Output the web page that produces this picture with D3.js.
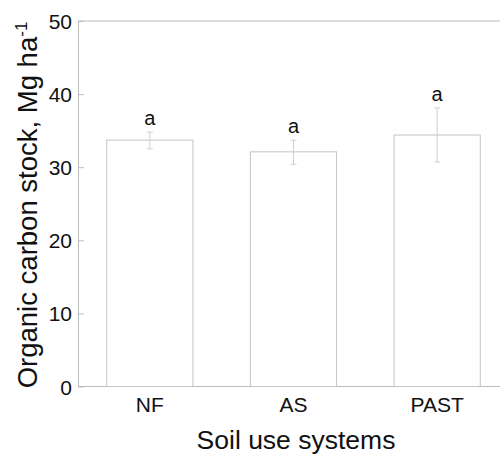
<!DOCTYPE html>
<html><head><meta charset="utf-8">
<script src="https://cdn.jsdelivr.net/npm/d3@7"></script>
<style>body{margin:0;background:#fff}svg{display:block;font-family:Arial,"Liberation Sans",sans-serif}</style>
</head><body><svg id="c" width="500" height="457"></svg>
<script>
const categories = ["NF", "AS", "PAST"];
const means = [33.7, 32.1, 34.4];
const errHigh = [34.8, 33.7, 38.1];
const errLow = [32.5, 30.4, 30.7];
const letters = ["a", "a", "a"];
const yTicks = [0, 10, 20, 30, 40, 50];

(function () {
const svg = d3.select("#c");
const mLeft = 78, mRight = 509, mTop = 21, mBottom = 386.5;
const x = d3.scaleBand().domain(categories).range([mLeft, mRight]).paddingInner(0.4).paddingOuter(0.2);
const y = d3.scaleLinear().domain([0, 50]).range([mBottom, mTop]);
const lineCol = "#bdbdbd", barCol = "#c4c4c4", textCol = "#111";

// frame lines
svg.append("line").attr("x1", mLeft).attr("x2", 500).attr("y1", y(50)).attr("y2", y(50)).attr("stroke", lineCol);
svg.append("line").attr("x1", mLeft).attr("x2", 500).attr("y1", y(0)).attr("y2", y(0)).attr("stroke", lineCol);

// y axis
const yAxis = d3.axisLeft(y).tickValues(yTicks).tickSizeInner(-6).tickSizeOuter(0);
const gy = svg.append("g").attr("transform", `translate(${mLeft},0)`).call(yAxis);
gy.select(".domain").attr("stroke", lineCol);
gy.selectAll(".tick line").attr("stroke", lineCol);
gy.selectAll(".tick text").attr("fill", textCol).style("font-size", "21px").attr("x", -6).attr("dy", "0.36em");

// bars
const bw = x.bandwidth();
svg.selectAll("rect.bar").data(categories).enter().append("rect")
  .attr("x", d => x(d)).attr("width", bw)
  .attr("y", (d, i) => y(means[i])).attr("height", (d, i) => y(0) - y(means[i]))
  .attr("fill", "#fff").attr("stroke", barCol).attr("stroke-width", 1);

// error bars
categories.forEach((c, i) => {
  const cx = x(c) + bw / 2;
  svg.append("line").attr("x1", cx).attr("x2", cx).attr("y1", y(errHigh[i])).attr("y2", y(errLow[i])).attr("stroke", "#cfcfcf");
  [errHigh[i], errLow[i]].forEach(v => {
    svg.append("line").attr("x1", cx - 3).attr("x2", cx + 3).attr("y1", y(v)).attr("y2", y(v)).attr("stroke", "#cfcfcf");
  });
  svg.append("text").attr("x", cx).attr("y", y(errHigh[i]) - 7).attr("text-anchor", "middle")
    .attr("fill", textCol).style("font-size", "20px").text(letters[i]);
});

// x tick labels
svg.selectAll("text.xl").data(categories).enter().append("text")
  .attr("x", d => x(d) + bw / 2).attr("y", 412).attr("text-anchor", "middle")
  .attr("fill", textCol).style("font-size", "21px").text(d => d);

// axis titles
svg.append("text").attr("x", 296).attr("y", 449).attr("text-anchor", "middle")
  .attr("fill", textCol).style("font-size", "26.5px").text("Soil use systems");

const yt = svg.append("text").attr("transform", `translate(37,205) rotate(-90)`)
  .attr("text-anchor", "middle").attr("fill", textCol).style("font-size", "27.5px");
yt.append("tspan").text("Organic carbon stock, Mg ha");
yt.append("tspan").attr("dy", -10).style("font-size", "17px").text("-1");
})();
</script></body></html>
